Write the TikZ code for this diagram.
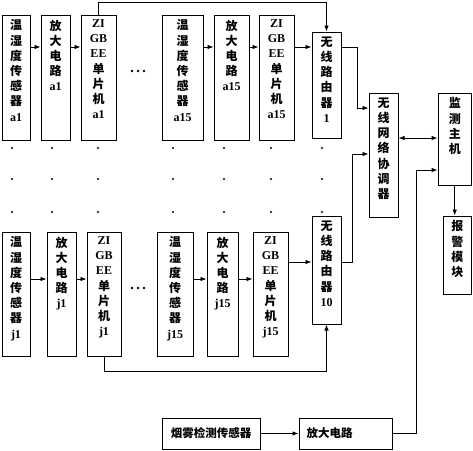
\documentclass[tikz,border=0pt]{standalone}
\usepackage{fontspec}
\setmainfont{Liberation Serif}
\newfontfamily\cjk{Noto Sans CJK SC}
\usetikzlibrary{positioning, arrows.meta, calc}
\newcommand{\lat}[1]{{\rmfamily\bfseries #1}}

\begin{document}
\begin{tikzpicture}[
  x=1pt, y=-1pt,
  font={\cjk\bfseries\fontsize{12}{15.2}\selectfont},
  unit/.style 2 args={
    draw=black, line width=1pt, rectangle, inner sep=0pt,
    minimum width=#1pt, minimum height=#2pt,
  },
  caption/.style={anchor=north, align=center, inner sep=0pt, yshift=-5pt},
  sidecap/.style={anchor=west, inner sep=0pt, xshift=8pt},
  arr/.style={-{Latex[length=6pt,width=4.5pt]}, line width=0.8pt},
  dblarr/.style={{Latex[length=6pt,width=4.5pt]}-{Latex[length=6pt,width=4.5pt]},
                 line width=0.8pt},
]
\useasboundingbox (0,0) rectangle (473,450);

% ── Row lines (y of the connectors) ────────────────────────────────
\coordinate (lnA)    at (0,47);
\coordinate (lnJ)    at (0,279);
\coordinate (lnR)    at (0,262);
\coordinate (lnH)    at (0,138);
\coordinate (topbus) at (0,2);
\coordinate (botbus) at (0,371);

% ── Top row: node group a1 ... a15 ─────────────────────────────────
\node[unit={28}{125}, label={[caption]north:温\\湿\\度\\传\\感\\器\\\lat{a1}}]
  (ta1) at (16,77.5) {};
\node[unit={29}{125}, label={[caption]north:放\\大\\电\\路\\\lat{a1}}]
  (aa1) at (55.5,77.5) {};
\node[unit={35}{125}, label={[caption]north:\lat{ZI}\\\lat{GB}\\\lat{EE}\\单\\片\\机\\\lat{a1}}]
  (za1) at (98.5,77.5) {};
\node[unit={41}{125}, label={[caption]north:温\\湿\\度\\传\\感\\器\\\lat{a15}}]
  (ta15) at (182.5,77.5) {};
\node[unit={35}{125}, label={[caption]north:放\\大\\电\\路\\\lat{a15}}]
  (aa15) at (231.5,77.5) {};
\node[unit={35}{125}, label={[caption]north:\lat{ZI}\\\lat{GB}\\\lat{EE}\\单\\片\\机\\\lat{a15}}]
  (za15) at (276.5,77.5) {};

% ── Bottom row: node group j1 ... j15 ──────────────────────────────
\node[unit={28}{124}, label={[caption]north:温\\湿\\度\\传\\感\\器\\\lat{j1}}]
  (tj1) at (16,294) {};
\node[unit={29}{124}, label={[caption]north:放\\大\\电\\路\\\lat{j1}}]
  (aj1) at (61.5,294) {};
\node[unit={34}{124}, label={[caption]north:\lat{ZI}\\\lat{GB}\\\lat{EE}\\单\\片\\机\\\lat{j1}}]
  (zj1) at (104,294) {};
\node[unit={36}{124}, label={[caption]north:温\\湿\\度\\传\\感\\器\\\lat{j15}}]
  (tj15) at (175,294) {};
\node[unit={31}{124}, label={[caption]north:放\\大\\电\\路\\\lat{j15}}]
  (aj15) at (222.5,294) {};
\node[unit={35}{124}, label={[caption]north:\lat{ZI}\\\lat{GB}\\\lat{EE}\\单\\片\\机\\\lat{j15}}]
  (zj15) at (270.5,294) {};

% ── Routers, coordinator, host, alarm ──────────────────────────────
\node[unit={29}{106}, label={[caption]north:无\\线\\路\\由\\器\\\lat{1}}]
  (r1) at (326.5,85) {};
\node[unit={29}{108}, label={[caption]north:无\\线\\路\\由\\器\\\lat{10}}]
  (r10) at (326.5,270) {};
\node[unit={29}{124}, label={[caption]north:无\\线\\网\\络\\协\\调\\器}]
  (coord) at (383.5,155) {};
\node[unit={33.5}{92}, label={[caption]north:监\\测\\主\\机}]
  (host) at (454.75,139) {};
\node[unit={28.5}{78}, label={[caption]north:报\\警\\模\\块}]
  (alarm) at (457.25,255) {};

% ── Smoke channel ──────────────────────────────────────────────────
\node[unit={98}{31}, font={\cjk\bfseries\fontsize{11.5}{14}\selectfont}]
  (smoke) at (211,433.5) {烟雾检测传感器};
\node[unit={93}{31}, label={[sidecap, font={\cjk\bfseries\fontsize{11.5}{14}\selectfont}]west:放大电路}]
  (samp) at (345.5,433.5) {};

% ── Ellipses and repeated-row dots ─────────────────────────────────
\foreach \x in {132,138,144} {
  \fill (\x,71) circle (1.4);
  \fill (\x,288) circle (1.4);
}
\foreach \x in {12,52,98,173,224,271,322}
  \foreach \y in {148,179,212}
    \fill (\x,\y) circle (1.1);

% ── Chains inside each row ─────────────────────────────────────────
\draw[arr] (ta1.east |- lnA)  -- (aa1.west |- lnA);
\draw[arr] (aa1.east |- lnA)  -- (za1.west |- lnA);
\draw[arr] (ta15.east |- lnA) -- (aa15.west |- lnA);
\draw[arr] (aa15.east |- lnA) -- (za15.west |- lnA);
\draw[arr] (za15.east |- lnA) -- (r1.west |- lnA);
\draw[arr] (tj1.east |- lnJ)  -- (aj1.west |- lnJ);
\draw[arr] (aj1.east |- lnJ)  -- (zj1.west |- lnJ);
\draw[arr] (tj15.east |- lnJ) -- (aj15.west |- lnJ);
\draw[arr] (aj15.east |- lnJ) -- (zj15.west |- lnJ);
\draw[arr] (zj15.east |- lnR) -- (r10.west |- lnR);

% ── First node of each row -> its router (over / under the rows) ───
\draw[arr] (za1.north) -- (za1.north |- topbus) -| (r1.north);
\draw[arr] (zj1.south) -- (zj1.south |- botbus) -| (r10.south);

% ── Routers -> coordinator ─────────────────────────────────────────
\coordinate (bus1) at (357,108);
\coordinate (bus2) at (352,154);
\draw[arr] (r1.east |- lnA) -| (bus1) -- (coord.west |- bus1);
\draw[arr] (r10.east |- lnR) -| (bus2) -- (coord.west |- bus2);

% ── Coordinator <-> host, host -> alarm ────────────────────────────
\draw[dblarr] (coord.east |- lnH) -- (host.west |- lnH);
\draw[arr] (host.south) -- (host.south |- alarm.north);

% ── Smoke sensor -> amplifier -> host ──────────────────────────────
\coordinate (bus3) at (416,170);
\draw[arr] (smoke.east) -- (samp.west);
\draw[arr] (samp.east) -| (bus3) -- (host.west |- bus3);

\end{tikzpicture}
\end{document}
